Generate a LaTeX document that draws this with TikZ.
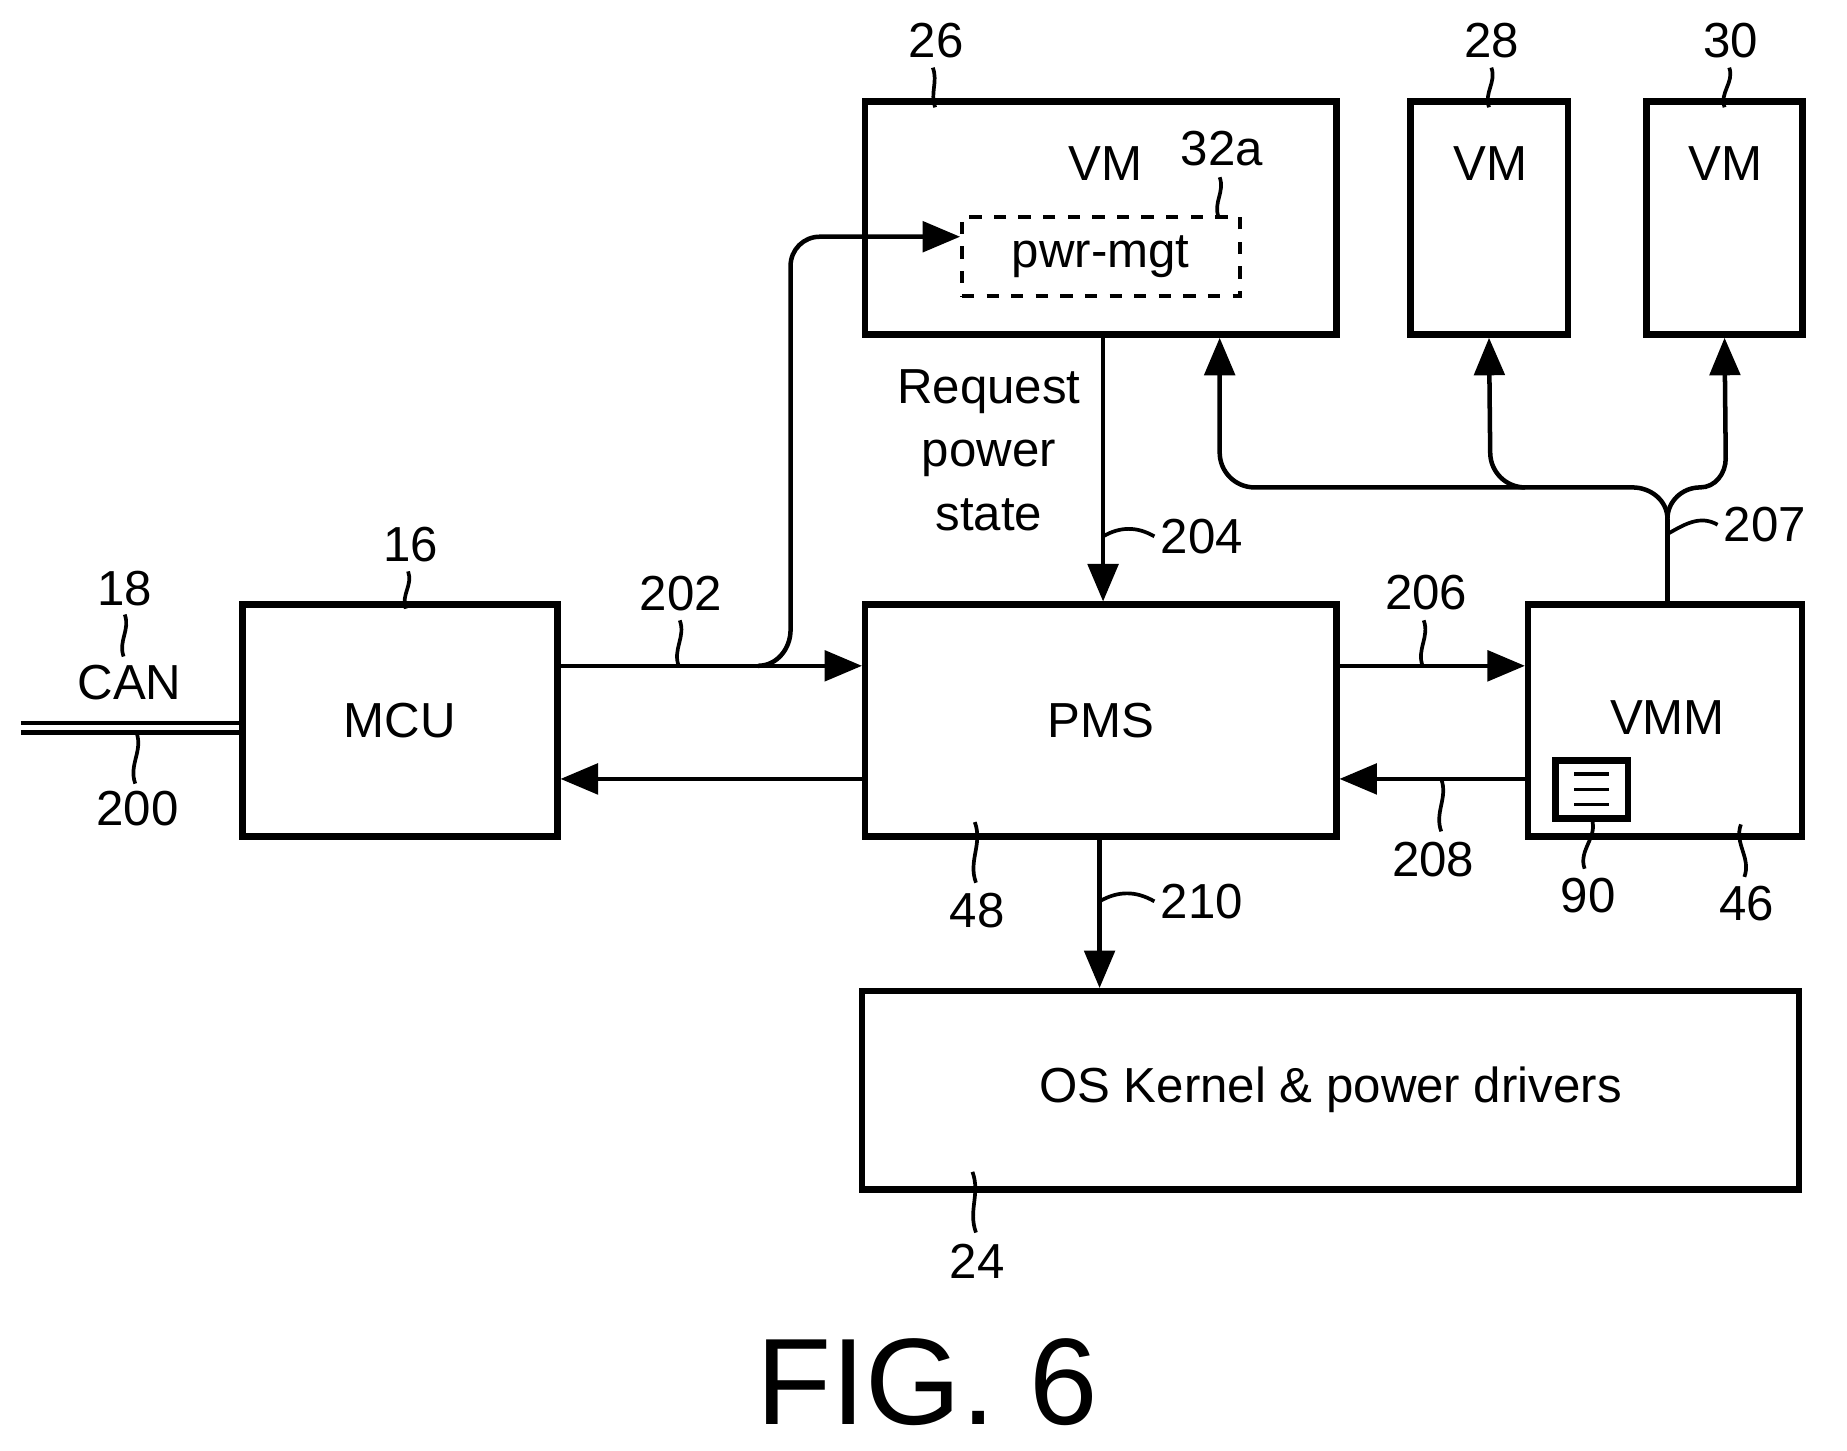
\documentclass[tikz,border=0pt]{standalone}
\usepackage{fontspec}
\setmainfont{Liberation Sans}
\usetikzlibrary{arrows,positioning}
\begin{document}
\begin{tikzpicture}[x=0.01cm,y=-0.01cm,>=triangle 45,line width=1.1pt,
	box/.style={draw,rectangle,line width=1.6pt,inner sep=0pt,font=\fontsize{12}{14}\selectfont},
	lbl/.style={font=\fontsize{12}{14}\selectfont,inner sep=1pt},
	lead/.style={-,line width=0.9pt},
	conn/.style={->,line width=1.1pt}]
	\useasboundingbox (0,0) rectangle (1584,1244);

	% boxes
	\node [box,minimum width=4.04cm,minimum height=2cm] (vm26) at (944,187) {};
	\node [lbl] at (948,140) {VM};
	\node [draw,dashed,line width=1pt,minimum width=2.38cm,minimum height=0.68cm,lbl] (pwr) at (944,220) {pwr-mgt};
	\node [box,minimum width=1.35cm,minimum height=2cm] (vm28) at (1277,187) {};
	\node [lbl] at (1278,140) {VM};
	\node [box,minimum width=1.34cm,minimum height=2cm] (vm30) at (1479,187) {};
	\node [lbl] at (1480,140) {VM};
	\node [box,minimum width=2.7cm,minimum height=1.99cm] (mcu) at (343,618) {MCU};
	\node [box,minimum width=4.04cm,minimum height=1.99cm] (pms) at (944,618) {PMS};
	\node [box,minimum width=2.35cm,minimum height=1.99cm] (vmm) at (1428,618) {};
	\node [lbl] at (1430,615) {VMM};
	\node [box,minimum width=8.03cm,minimum height=1.7cm] (os) at (1141,935) {OS Kernel \& power drivers};
	\node [draw,line width=1.6pt,minimum width=0.62cm,minimum height=0.5cm] (doc) at (1365,677) {};
	\foreach \yy in {664,677,690} \draw[line width=0.9pt] (1350,\yy) -- (1380,\yy);

	% CAN bus
	\coordinate (can1) at (18,620);
	\coordinate (can2) at (18,628);
	\draw (can1) -- (can1 -| mcu.west);
	\draw (can2) -- (can2 -| mcu.west);

	% connectors
	\coordinate (b202) at (650,571);
	\draw [conn] (mcu.east |- b202) -- (pms.west |- b202);
	\draw [conn] (b202) to[out=0,in=-90] (678,540) -- (678,228) to[out=90,in=180] (703,203) -- (pwr.west |- 0,203);
	\draw [conn] (pms.west |- 0,668) -- (mcu.east |- 0,668);
	\draw [conn] (vm26.south -| 946,0) -- (pms.north -| 946,0);
	\draw [conn] (pms.east |- 0,571) -- (vmm.west |- 0,571);
	\draw [conn] (vmm.west |- 0,668) -- (pms.east |- 0,668);
	\draw [conn] (pms.south -| 943,0) -- (os.north -| 943,0);
	\coordinate (t207) at (1430,445);
	\draw (vmm.north -| t207) -- (t207);
	\draw [conn] (t207) to[out=90,in=0] (1400,418) -- (1076,418) to[out=180,in=-90] (1046,388) -- (vm26.south -| 1046,0);
	\draw [conn] (1308,418) to[out=180,in=-90] (1278,388) -- (vm28.south);
	\draw [conn] (t207) to[out=90,in=180] (1458,418) to[out=0,in=-90] (1480,393) -- (vm30.south);

	% labels and leaders
	\node [lbl] (l26) at (803,35) {26};
	\draw [lead] (800,58) to[out=-70,in=110] (802,92);
	\node [lbl] (l28) at (1279,35) {28};
	\draw [lead] (1279,58) to[out=-70,in=110] (1277,92);
	\node [lbl] (l30) at (1484,35) {30};
	\draw [lead] (1483,58) to[out=-70,in=110] (1479,92);
	\node [lbl] (l32a) at (1048,127) {32a};
	\draw [lead] (1046,152) to[out=-70,in=110] (1045,186);
	\node [lbl] (l16) at (352,467) {16};
	\draw [lead] (350,490) to[out=-70,in=110] (348,522);
	\node [lbl] (l18) at (107,505) {18};
	\node [lbl] (lcan) at (111,585) {CAN};
	\draw [lead] (107,527) to[out=-70,in=110] (106,563);
	\node [lbl] (l200) at (118,693) {200};
	\draw [lead] (116,672) to[out=110,in=-70] (117,628);
	\node [lbl] (l202) at (584,509) {202};
	\draw [lead] (583,532) to[out=-70,in=110] (582,571);
	\node [lbl,align=center,font=\fontsize{12}{15.5}\selectfont] at (848,386) {Request\\power\\state};
	\node [lbl,anchor=west] (l204) at (990,460) {204};
	\draw [lead] (946,460) to[out=30,in=150] (990,460);
	\node [lbl] (l206) at (1223,508) {206};
	\draw [lead] (1221,532) to[out=-70,in=110] (1220,571);
	\node [lbl,anchor=west] (l207) at (1473,450) {207};
	\draw [lead] (1430,458) to[out=30,in=150] (1473,450);
	\node [lbl] (l208) at (1229,737) {208};
	\draw [lead] (1236,668) to[out=-70,in=110] (1236,713);
	\node [lbl,anchor=west] (l210) at (990,773) {210};
	\draw [lead] (943,773) to[out=30,in=150] (990,773);
	\node [lbl] (l48) at (838,781) {48};
	\draw [lead] (836,705) to[out=-70,in=110] (837,757);
	\node [lbl] (l90) at (1362,768) {90};
	\draw [lead] (1365,702) to[out=-70,in=110] (1359,745);
	\node [lbl] (l46) at (1498,775) {46};
	\draw [lead] (1493,707) to[out=-110,in=70] (1496,752);
	\node [lbl] (l24) at (838,1082) {24};
	\draw [lead] (834,1005) to[out=-70,in=110] (837,1057);
	\node [font=\fontsize{30}{34}\selectfont] (fig) at (795,1185) {FIG. 6};
\end{tikzpicture}
\end{document}
